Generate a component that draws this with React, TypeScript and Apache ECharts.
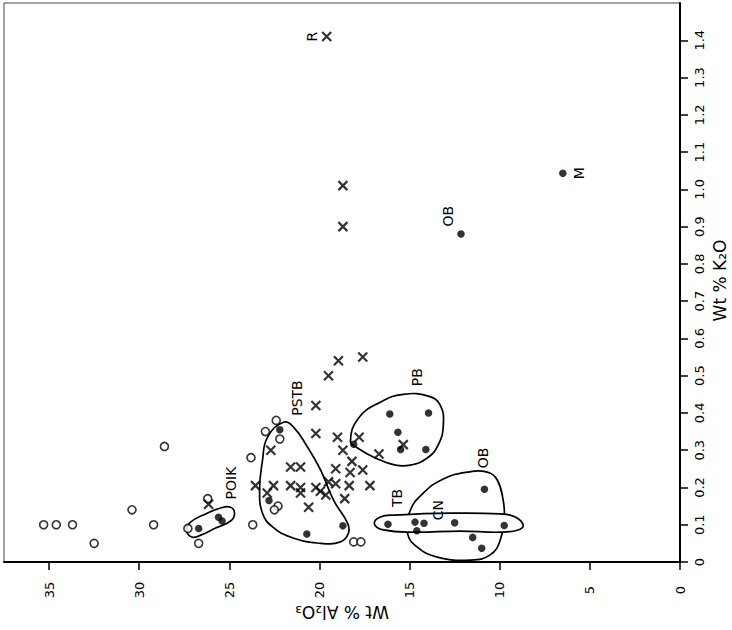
import { useEffect, useRef } from "react";
import * as echarts from "echarts";

// Axis ticks
const xTicks = [0, 5, 10, 15, 20, 25, 30, 35];
const yTicks = [0, 0.1, 0.2, 0.3, 0.4, 0.5, 0.6, 0.7, 0.8, 0.9, 1.0, 1.1, 1.2, 1.3, 1.4];
const xTitle = "Wt % Al₂O₃";
const yTitle = "Wt % K₂O";

// Open circles (Al2O3, K2O)
const openAl = [35.3, 34.6, 33.7, 32.5, 30.4, 29.2, 28.6, 27.3, 26.7, 26.2, 23.7, 23.8, 23.0, 22.4, 22.2, 22.3, 22.5, 18.1, 17.7];
const openK = [0.10, 0.10, 0.10, 0.05, 0.14, 0.10, 0.31, 0.09, 0.05, 0.17, 0.10, 0.28, 0.35, 0.38, 0.33, 0.15, 0.14, 0.054, 0.054];

// Filled circles
const filledAl = [26.7, 25.6, 25.4, 22.2, 22.8, 20.7, 18.7, 18.1, 16.1, 13.95, 15.65, 15.5, 14.1, 16.2, 14.7, 14.2, 14.6, 12.5, 9.75, 10.85, 11.5, 11.0, 12.15, 6.5];
const filledK = [0.09, 0.12, 0.11, 0.355, 0.165, 0.075, 0.097, 0.316, 0.397, 0.40, 0.348, 0.302, 0.302, 0.101, 0.107, 0.104, 0.084, 0.105, 0.098, 0.195, 0.066, 0.037, 0.88, 1.043];

// Crosses
const crossAl = [19.6, 18.7, 18.7, 26.15, 23.55, 22.9, 22.55, 22.7, 21.6, 21.05, 21.6, 21.05, 21.05, 20.2, 19.95, 19.65, 19.5, 19.1, 20.6, 19.1, 20.2, 20.2, 19.5, 18.95, 17.6, 19.0, 18.7, 18.2, 18.3, 17.6, 17.8, 18.35, 17.2, 18.6, 16.7, 15.35];
const crossK = [1.41, 1.01, 0.90, 0.155, 0.205, 0.185, 0.205, 0.30, 0.255, 0.255, 0.205, 0.20, 0.185, 0.20, 0.19, 0.18, 0.215, 0.21, 0.147, 0.25, 0.42, 0.345, 0.50, 0.54, 0.55, 0.335, 0.30, 0.27, 0.24, 0.247, 0.335, 0.205, 0.205, 0.17, 0.29, 0.315];

// Group labels
const labelNames = ["R", "OB", "M", "OB", "TB", "CN", "PB", "PSTB", "POIK"];
const labelAl = [20.44, 12.85, 5.6, 10.91, 15.68, 13.41, 14.57, 21.22, 24.93];
const labelK = [1.41, 0.928, 1.043, 0.279, 0.172, 0.139, 0.496, 0.44, 0.212];

// Group envelopes [Al2O3, K2O]
const poikOutline = [[27.37, 0.086], [27.15, 0.107], [26.32, 0.129], [25.48, 0.145], [24.93, 0.147], [24.71, 0.131], [24.93, 0.11], [25.76, 0.091], [26.59, 0.072], [27.09, 0.067]];
const pstbOutline = [[22.0, 0.375], [22.88, 0.335], [23.16, 0.273], [23.32, 0.193], [23.16, 0.131], [22.6, 0.094], [21.61, 0.067], [20.11, 0.051], [18.84, 0.054], [18.39, 0.078], [18.45, 0.105], [19.22, 0.166], [19.94, 0.247], [20.66, 0.308], [21.44, 0.362]];
const pbOutline = [[18.28, 0.324], [17.84, 0.386], [16.62, 0.429], [15.35, 0.45], [13.96, 0.445], [13.3, 0.421], [13.13, 0.367], [13.41, 0.314], [14.02, 0.279], [14.96, 0.26], [15.79, 0.26], [16.9, 0.279], [17.89, 0.306]];
const obOutline = [[15.12, 0.078], [14.96, 0.139], [14.24, 0.185], [13.13, 0.223], [11.8, 0.241], [10.69, 0.241], [10.14, 0.22], [9.81, 0.166], [9.75, 0.121], [9.97, 0.059], [10.53, 0.019], [11.63, 0.005], [13.46, 0.013], [14.57, 0.04]];
const bandOutline = [[16.95, 0.102], [16.62, 0.121], [15.79, 0.126], [12.74, 0.131], [9.97, 0.129], [9.14, 0.121], [8.7, 0.099], [8.98, 0.086], [9.97, 0.08], [12.19, 0.083], [14.79, 0.08], [16.45, 0.086]];
const outlines = [poikOutline, pstbOutline, pbOutline, obOutline, bandOutline];
const outlineFilled = [false, false, false, false, true];

const FONT = "DejaVu Sans, Liberation Sans, sans-serif";

const zip = (a: number[], b: number[]) => a.map((v, i) => [v, b[i]]);
const fmtY = (v: number) => (v === 0 ? "0" : v.toFixed(1));

export default function App() {
  const ref = useRef<HTMLDivElement>(null);
  useEffect(() => {
    const chart = echarts.init(ref.current!, null, { renderer: "svg" });
    const option: any = {
      animation: false,
      backgroundColor: "#fff",
      grid: {
        left: 4,
        right: 52,
        top: 3,
        bottom: 68,
        containLabel: false,
        outerBoundsMode: "none",
        show: true,
        borderColor: "#444",
        borderWidth: 1,
      },
      xAxis: {
        type: "value",
        inverse: true,
        min: 0,
        max: 37.5,
        interval: 5,
        axisLine: { show: true, onZero: false, lineStyle: { color: "#000", width: 2 } },
        axisTick: { show: true, length: 8, lineStyle: { color: "#000", width: 1.5 }, customValues: xTicks },
        axisLabel: { show: false },
        splitLine: { show: false },
      },
      yAxis: {
        type: "value",
        position: "right",
        min: 0,
        max: 1.5,
        interval: 0.1,
        axisLine: { show: true, onZero: false, lineStyle: { color: "#000", width: 2 } },
        axisTick: { show: true, length: 8, lineStyle: { color: "#000", width: 1.5 }, customValues: yTicks },
        axisLabel: { show: false },
        splitLine: { show: false },
      },
      series: [
        {
          type: "custom",
          silent: true,
          z: 1,
          data: outlines.map((o) => o[0]),
          renderItem: (params: any, api: any) => {
            const pts = outlines[params.dataIndex].map((p) => api.coord(p));
            return {
              type: "polygon",
              shape: { points: pts, smooth: 0.45 },
              style: {
                fill: outlineFilled[params.dataIndex] ? "#fff" : "none",
                stroke: "#000",
                lineWidth: 1.7,
              },
            };
          },
        },
        {
          type: "scatter",
          silent: true,
          z: 3,
          symbol: "circle",
          symbolSize: 8,
          itemStyle: { color: "#fff", borderColor: "#000", borderWidth: 1.6 },
          data: zip(openAl, openK),
        },
        {
          type: "scatter",
          silent: true,
          z: 3,
          symbol: "circle",
          symbolSize: 7.5,
          itemStyle: { color: "#000" },
          data: zip(filledAl, filledK),
        },
        {
          type: "scatter",
          silent: true,
          z: 3,
          symbol: "path://M0,0L10,10M10,0L0,10",
          symbolSize: 9,
          itemStyle: { color: "none", borderColor: "#000", borderWidth: 2.2 },
          data: zip(crossAl, crossK),
        },
        {
          type: "custom",
          silent: true,
          z: 4,
          data: labelNames.map((_, i) => [labelAl[i], labelK[i]]),
          renderItem: (params: any, api: any) => {
            const i = params.dataIndex;
            const p = api.coord([labelAl[i], labelK[i]]);
            return {
              type: "text",
              x: p[0],
              y: p[1],
              rotation: Math.PI / 2,
              style: {
                text: labelNames[i],
                fill: "#000",
                font: `14px ${FONT}`,
                align: "center",
                verticalAlign: "middle",
              },
            };
          },
        },
      ],
    };
    chart.setOption(option);

    // Axis labels and titles placed through the axes' own scales
    const axisX = chart.convertToPixel({ xAxisIndex: 0 }, 0) as number;
    const axisY = chart.convertToPixel({ yAxisIndex: 0 }, 0) as number;
    const xLeft = chart.convertToPixel({ xAxisIndex: 0 }, 37.5) as number;
    const yTop = chart.convertToPixel({ yAxisIndex: 0 }, 1.5) as number;
    const graphics: any[] = [];
    xTicks.forEach((v) => {
      graphics.push({
        type: "text",
        x: chart.convertToPixel({ xAxisIndex: 0 }, v) as number,
        y: axisY + 28,
        rotation: Math.PI / 2,
        silent: true,
        style: { text: String(v), fill: "#000", font: `13px ${FONT}`, align: "center", verticalAlign: "middle" },
      });
    });
    yTicks.forEach((v) => {
      graphics.push({
        type: "text",
        x: axisX + 19,
        y: chart.convertToPixel({ yAxisIndex: 0 }, v) as number,
        rotation: Math.PI / 2,
        silent: true,
        style: { text: fmtY(v), fill: "#000", font: `13px ${FONT}`, align: "center", verticalAlign: "middle" },
      });
    });
    graphics.push({
      type: "text",
      x: (axisX + xLeft) / 2,
      y: axisY + 50,
      rotation: Math.PI,
      silent: true,
      style: { text: xTitle, fill: "#000", font: `17px ${FONT}`, align: "center", verticalAlign: "middle" },
    });
    graphics.push({
      type: "text",
      x: axisX + 40,
      y: (axisY + yTop) / 2 - 2,
      rotation: Math.PI / 2,
      silent: true,
      style: { text: yTitle, fill: "#000", font: `17px ${FONT}`, align: "center", verticalAlign: "middle" },
    });
    chart.setOption({ graphic: graphics });

    return () => chart.dispose();
  }, []);
  return (
    <div
      ref={ref}
      style={{ position: "fixed", left: 0, top: 0, width: 732, height: 630, background: "#fff" }}
    />
  );
}
